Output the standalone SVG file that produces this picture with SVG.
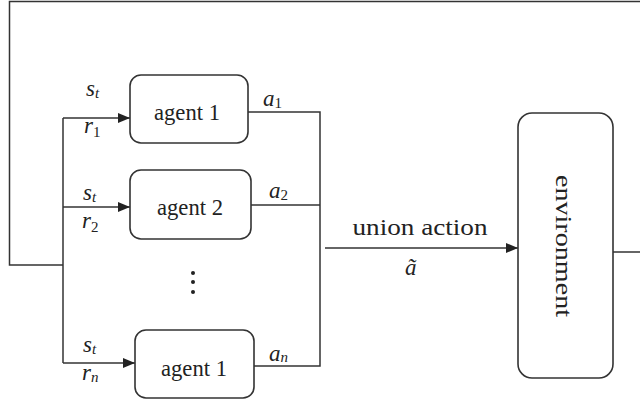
<svg xmlns="http://www.w3.org/2000/svg" width="640" height="403" viewBox="0 0 640 403">
<style>
.ln{fill:none;stroke:#333;stroke-width:1.5}
.box{fill:#fff;stroke:#333;stroke-width:1.6}
.t{font-family:"Liberation Serif","Times New Roman",serif;font-size:24px;fill:#222}
.m{font-family:"Liberation Serif","Times New Roman",serif;font-style:italic;font-size:23px;fill:#222}
.sub{font-size:15px}
</style>
<defs>
<marker id="ah" markerWidth="12" markerHeight="10" refX="12" refY="5" orient="auto" markerUnits="userSpaceOnUse">
<path d="M0,0 L12,5 L0,10 Z" fill="#222"/>
</marker>
</defs>
<rect width="640" height="403" fill="#fff"/>
<g id="connectors">
<path class="ln" d="M640,1.5 H9.5 V265 H63"/>
<path class="ln" d="M63,118 V363"/>
<path class="ln" d="M63,118 H130" marker-end="url(#ah)"/>
<path class="ln" d="M63,207 H130" marker-end="url(#ah)"/>
<path class="ln" d="M63,363 H135" marker-end="url(#ah)"/>
<path class="ln" d="M248,112 H320 V366 H254"/>
<path class="ln" d="M251,205 H320"/>
<path class="ln" d="M325,248 H518" marker-end="url(#ah)"/>
<path class="ln" d="M613,252 H640"/>
</g>
<g id="agent1">
<rect class="box" x="130" y="75" width="118" height="68" rx="11"/>
<text class="t" x="187" y="120" text-anchor="middle" textLength="66" lengthAdjust="spacingAndGlyphs">agent 1</text>
</g>
<g id="agent2">
<rect class="box" x="130" y="170" width="121" height="69" rx="11"/>
<text class="t" x="190" y="215" text-anchor="middle" textLength="66" lengthAdjust="spacingAndGlyphs">agent 2</text>
</g>
<g id="agentn">
<rect class="box" x="135" y="330" width="119" height="68" rx="11"/>
<text class="t" x="194" y="376" text-anchor="middle" textLength="66" lengthAdjust="spacingAndGlyphs">agent 1</text>
</g>
<g id="environment">
<rect class="box" x="518" y="113" width="95" height="265" rx="14"/>
<text class="t" transform="translate(556,246) rotate(90)" text-anchor="middle" textLength="142" lengthAdjust="spacingAndGlyphs">environment</text>
</g>
<g id="dots" fill="#222">
<circle cx="193" cy="273" r="2"/>
<circle cx="193" cy="282" r="2"/>
<circle cx="193" cy="292" r="2"/>
</g>
<g id="labels">
<text class="m" x="86" y="96">s<tspan class="sub" dy="2">t</tspan></text>
<text class="m" x="84" y="133">r<tspan class="sub" dy="4" font-style="normal">1</tspan></text>
<text class="m" x="83" y="200">s<tspan class="sub" dy="2">t</tspan></text>
<text class="m" x="82" y="228">r<tspan class="sub" dy="4" font-style="normal">2</tspan></text>
<text class="m" x="83" y="352">s<tspan class="sub" dy="2">t</tspan></text>
<text class="m" x="82" y="380">r<tspan class="sub" dy="2">n</tspan></text>
<text class="m" x="263" y="106">a<tspan class="sub" dy="2" font-style="normal">1</tspan></text>
<text class="m" x="269" y="198">a<tspan class="sub" dy="2" font-style="normal">2</tspan></text>
<text class="m" x="269" y="361">a<tspan class="sub" dy="1">n</tspan></text>
<text class="t" x="420" y="235" text-anchor="middle" textLength="135" lengthAdjust="spacingAndGlyphs">union action</text>
<text class="m" x="405" y="275">ã</text>
</g>
</svg>
